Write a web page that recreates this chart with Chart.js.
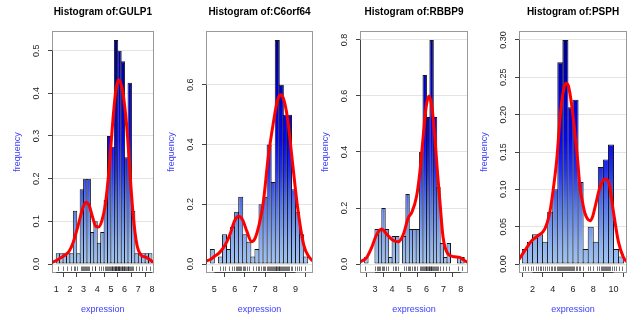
<!DOCTYPE html>
<html><head><meta charset="utf-8">
<script src="https://cdn.jsdelivr.net/npm/chart.js@4.4.1/dist/chart.umd.min.js"></script>
<style>
html,body{margin:0;padding:0;background:#fff;width:642px;height:320px;overflow:hidden;position:relative}
canvas{position:absolute;top:0}
</style></head><body>
<script>
// ---------- data ----------
const genes = ['GULP1', 'C6orf64', 'RBBP9', 'PSPH'];

// histogram bins (start of first bin, width) and bar heights (density)
const gulp1BinStart = 1.0, gulp1BinWidth = 0.25;
const gulp1Freq = [0.025,0.025,0.025,0.025,0.025,0.125,0.025,0.175,0.2,0.2,0.075,0.1,0.05,0.075,0.15,0.3,0.275,0.525,0.5,0.475,0.25,0.425,0.125,0.025,0.025,0.025,0.025,0.025];
const c6orf64BinStart = 4.8, c6orf64BinWidth = 0.2;
const c6orf64Freq = [0.05,0,0.025,0.1,0.05,0.125,0.175,0.225,0.1,0.075,0.025,0.05,0.2,0.225,0.4,0.275,0.75,0.6,0.5,0.5,0.25,0.175,0.1,0.025];
const rbbp9BinStart = 2.4, rbbp9BinWidth = 0.2;
const rbbp9Freq = [0.025,0,0,0.125,0.125,0.2,0.125,0.025,0.1,0.1,0,0.1,0.25,0.125,0.125,0.125,0.4,0.675,0.525,0.8,0.525,0.275,0.075,0.025,0.075,0,0,0.025,0.025];
const psphBinStart = 1.0, psphBinWidth = 0.5;
const psphFreq = [0.02,0.03,0.04,0.04,0.03,0.07,0.1,0.27,0.3,0.21,0.22,0.11,0.02,0.05,0.03,0.13,0.14,0.16,0.02,0.01];

// density curves [x, y]
const gulp1Density = [[0.69,0.004],[1.0,0.008],[1.3,0.014],[1.6,0.02],[1.94,0.03],[2.23,0.05],[2.58,0.088],[2.93,0.13],[3.17,0.145],[3.4,0.138],[3.64,0.112],[3.9,0.088],[4.1,0.087],[4.35,0.103],[4.58,0.138],[4.8,0.2],[4.97,0.265],[5.15,0.34],[5.35,0.405],[5.55,0.432],[5.75,0.42],[5.95,0.385],[6.2,0.305],[6.4,0.21],[6.63,0.113],[6.9,0.045],[7.2,0.021],[7.55,0.016],[7.85,0.01],[8.12,0.004]];
const c6orf64Density = [[4.59,0.01],[4.8,0.015],[5.03,0.027],[5.25,0.038],[5.45,0.055],[5.62,0.075],[5.8,0.105],[6.0,0.145],[6.2,0.16],[6.4,0.147],[6.6,0.11],[6.84,0.075],[7.0,0.085],[7.2,0.13],[7.4,0.2],[7.66,0.36],[7.9,0.47],[8.1,0.545],[8.25,0.567],[8.4,0.555],[8.6,0.49],[8.85,0.34],[9.1,0.19],[9.4,0.065],[9.65,0.025],[9.86,0.01]];
const rbbp9Density = [[2.13,0.008],[2.5,0.022],[2.8,0.058],[3.1,0.105],[3.39,0.125],[3.68,0.107],[4.05,0.085],[4.36,0.08],[4.65,0.105],[4.94,0.165],[5.15,0.185],[5.42,0.24],[5.62,0.33],[5.8,0.448],[5.98,0.56],[6.15,0.6],[6.32,0.56],[6.48,0.46],[6.65,0.32],[6.78,0.226],[6.97,0.095],[7.26,0.036],[7.65,0.026],[7.94,0.024],[8.23,0.012],[8.42,0.006]];
const psphDensity = [[0.67,0.006],[1.24,0.018],[1.9,0.031],[2.56,0.038],[3.22,0.047],[3.72,0.07],[4.05,0.1],[4.4,0.14],[4.75,0.2],[5.05,0.232],[5.3,0.242],[5.55,0.238],[5.85,0.215],[6.15,0.18],[6.45,0.14],[6.69,0.103],[6.95,0.082],[7.18,0.068],[7.45,0.06],[7.7,0.058],[7.95,0.064],[8.17,0.076],[8.67,0.103],[9.16,0.114],[9.56,0.108],[9.99,0.07],[10.48,0.03],[10.98,0.009],[11.33,0.003]];

// rug marks (observations)
const gulp1Rug = [1.15,1.5,1.8,2.05,2.3,2.38,2.55,2.8,2.9,2.97,3.05,3.12,3.2,3.27,3.35,3.42,3.6,3.8,3.87,4.1,4.3,4.4,4.55,4.62,4.7,4.8,4.86,4.93,5.0,5.05,5.1,5.15,5.2,5.27,5.3,5.35,5.4,5.45,5.5,5.55,5.58,5.62,5.68,5.72,5.78,5.82,5.88,5.93,5.98,6.03,6.1,6.15,6.22,6.28,6.33,6.38,6.45,6.55,6.62,6.8,7.05,7.3,7.6,7.85];
const c6orf64Rug = [4.87,5.3,5.45,5.55,5.7,5.85,5.95,6.05,6.12,6.18,6.22,6.28,6.33,6.4,6.45,6.52,6.6,6.72,6.9,7.05,7.15,7.22,7.3,7.38,7.45,7.52,7.6,7.65,7.7,7.75,7.8,7.85,7.9,7.95,8.0,8.03,8.06,8.1,8.13,8.17,8.2,8.25,8.3,8.35,8.4,8.45,8.5,8.55,8.6,8.65,8.7,8.78,8.85,8.95,9.05,9.15,9.25,9.45];
const rbbp9Rug = [2.4,3.02,3.1,3.18,3.25,3.32,3.4,3.48,3.55,3.65,3.75,4.08,4.15,4.25,4.32,4.7,4.82,4.9,4.97,5.05,5.15,5.25,5.35,5.45,5.6,5.68,5.75,5.8,5.85,5.9,5.95,6.0,6.04,6.08,6.12,6.16,6.2,6.24,6.28,6.32,6.36,6.42,6.48,6.55,6.62,6.7,6.8,6.95,7.15,7.3,7.85,8.05];
const psphRug = [1.1,1.3,1.6,1.9,2.1,2.3,2.5,2.7,2.85,3.0,3.2,3.4,3.6,3.8,3.95,4.1,4.25,4.4,4.5,4.6,4.7,4.8,4.9,5.0,5.1,5.2,5.3,5.4,5.5,5.6,5.7,5.8,5.9,6.0,6.1,6.25,6.4,6.55,6.7,7.0,7.5,7.7,7.95,8.4,8.6,8.8,8.9,9.0,9.1,9.2,9.3,9.4,9.5,9.6,9.7,9.85,10.0,10.2,10.5,10.8];

// axis ticks and labels
const gulp1XTicks = [1,2,3,4,5,6,7,8];
const gulp1YTicks = [0,0.1,0.2,0.3,0.4,0.5];
const gulp1YLabels = ['0.0','0.1','0.2','0.3','0.4','0.5'];
const c6orf64XTicks = [5,6,7,8,9];
const c6orf64YTicks = [0,0.2,0.4,0.6];
const c6orf64YLabels = ['0.0','0.2','0.4','0.6'];
const rbbp9XTicks = [3,4,5,6,7,8];
const rbbp9YTicks = [0,0.2,0.4,0.6,0.8];
const rbbp9YLabels = ['0.0','0.2','0.4','0.6','0.8'];
const psphXTicks = [2,4,6,8,10];
const psphYTicks = [0,0.05,0.1,0.15,0.2,0.25,0.3];
const psphYLabels = ['0.00','0.05','0.10','0.15','0.20','0.25','0.30'];

const xTitle = 'expression';
const yTitle = 'frequency';
const titlePrefix = 'Histogram of:';

// ---------- layout (plot box in page pixels) ----------
const panels = [
  {gene:genes[0], freq:gulp1Freq, binStart:gulp1BinStart, binWidth:gulp1BinWidth, density:gulp1Density, rug:gulp1Rug,
   xTicks:gulp1XTicks, yTicks:gulp1YTicks, yLabels:gulp1YLabels, xMin:0.69, xMax:8.12, yMin:-0.021, yMax:0.546, boxL:52, boxR:156},
  {gene:genes[1], freq:c6orf64Freq, binStart:c6orf64BinStart, binWidth:c6orf64BinWidth, density:c6orf64Density, rug:c6orf64Rug,
   xTicks:c6orf64XTicks, yTicks:c6orf64YTicks, yLabels:c6orf64YLabels, xMin:4.59, xMax:9.86, yMin:-0.03, yMax:0.78, boxL:206, boxR:313},
  {gene:genes[2], freq:rbbp9Freq, binStart:rbbp9BinStart, binWidth:rbbp9BinWidth, density:rbbp9Density, rug:rbbp9Rug,
   xTicks:rbbp9XTicks, yTicks:rbbp9YTicks, yLabels:rbbp9YLabels, xMin:2.13, xMax:8.42, yMin:-0.032, yMax:0.832, boxL:360, boxR:468},
  {gene:genes[3], freq:psphFreq, binStart:psphBinStart, binWidth:psphBinWidth, density:psphDensity, rug:psphRug,
   xTicks:psphXTicks, yTicks:psphYTicks, yLabels:psphYLabels, xMin:0.67, xMax:11.33, yMin:-0.012, yMax:0.312, boxL:519, boxR:627}
];

const FONT = '"Liberation Sans", Arial, Helvetica, sans-serif';
Chart.defaults.font.family = FONT;
const LEFT_EXTRA = 45, Y_AXIS_W = 40, RIGHT_PAD = 6;
const LABEL_BLUE = '#3c3cff';

function makeGradient(chart) {
  const {ctx, chartArea} = chart;
  const g = ctx.createLinearGradient(0, chartArea.bottom, 0, chartArea.top);
  g.addColorStop(0.0, '#abcdf5');
  g.addColorStop(0.12, '#8cb0ee');
  g.addColorStop(0.28, '#5577e6');
  g.addColorStop(0.42, '#2433ea');
  g.addColorStop(0.55, '#0606ee');
  g.addColorStop(0.75, '#0000c4');
  g.addColorStop(1.0, '#00007a');
  return g;
}

panels.forEach((p, idx) => {
  const boxW = p.boxR - p.boxL;
  const cw = boxW + LEFT_EXTRA + RIGHT_PAD;
  const canvas = document.createElement('canvas');
  canvas.width = cw; canvas.height = 320;
  canvas.style.left = (p.boxL - LEFT_EXTRA) + 'px';
  canvas.style.width = cw + 'px'; canvas.style.height = '320px';
  document.body.appendChild(canvas);

  const binPx = p.binWidth * boxW / (p.xMax - p.xMin);
  const bars = p.freq.map((v, i) => ({x: p.binStart + (i + 0.5) * p.binWidth, y: v}));
  const dens = p.density.map(d => ({x: d[0], y: d[1]}));

  const decor = {
    id: 'decor' + idx,
    afterDatasetsDraw(chart) {
      const c = chart.ctx, a = chart.chartArea, xs = chart.scales.x;
      c.save();
      c.strokeStyle = 'rgba(0,0,0,0.55)';
      c.lineWidth = 1;
      c.beginPath();
      p.rug.forEach(v => {
        const px = Math.round(xs.getPixelForValue(v)) + 0.5;
        c.moveTo(px, a.bottom - 2);
        c.lineTo(px, a.bottom - 6.5);
      });
      c.stroke();
      c.restore();
    },
    afterDraw(chart) {
      const c = chart.ctx, a = chart.chartArea, xs = chart.scales.x, ys = chart.scales.y;
      c.save();
      // plot box
      c.strokeStyle = '#9a9a9a';
      c.lineWidth = 1;
      c.strokeRect(Math.round(a.left) + 0.5, Math.round(a.top) + 0.5,
                   Math.round(a.right) - Math.round(a.left) - 1, Math.round(a.bottom) - Math.round(a.top) - 1);
      // axis lines between first and last tick
      c.strokeStyle = '#444';
      c.beginPath();
      const bx = Math.round(a.bottom) - 0.5;
      c.moveTo(xs.getPixelForValue(p.xTicks[0]), bx);
      c.lineTo(xs.getPixelForValue(p.xTicks[p.xTicks.length - 1]), bx);
      const lx = Math.round(a.left) + 0.5;
      c.moveTo(lx, ys.getPixelForValue(p.yTicks[0]));
      c.lineTo(lx, ys.getPixelForValue(p.yTicks[p.yTicks.length - 1]));
      c.stroke();
      // rotated y tick labels
      c.fillStyle = '#222';
      c.font = '9px ' + FONT;
      c.textAlign = 'center';
      c.textBaseline = 'middle';
      p.yTicks.forEach((v, i) => {
        c.save();
        c.translate(a.left - 15, ys.getPixelForValue(v));
        c.rotate(-Math.PI / 2);
        c.fillText(p.yLabels[i], 0, 0);
        c.restore();
      });
      c.restore();
    }
  };

  new Chart(canvas, {
    data: {
      datasets: [
        {
          type: 'bar', data: bars,
          backgroundColor: (ctx) => {
            const ch = ctx.chart;
            if (!ch.chartArea) return '#5577e6';
            return ch.$grad || (ch.$grad = makeGradient(ch));
          },
          borderColor: '#161616', borderWidth: 1, borderSkipped: false,
          barPercentage: 1 + 1 / binPx, categoryPercentage: 1, order: 2
        },
        {
          type: 'line', data: dens,
          borderColor: '#ff0000', borderWidth: 3, pointRadius: 0,
          cubicInterpolationMode: 'monotone', fill: false, order: 1
        }
      ]
    },
    options: {
      responsive: false, animation: false, devicePixelRatio: 1, events: [],
      layout: {padding: {left: LEFT_EXTRA - Y_AXIS_W, right: RIGHT_PAD, top: 0, bottom: 0}},
      plugins: {
        legend: {display: false}, tooltip: {enabled: false},
        title: {display: true, text: titlePrefix + p.gene, color: '#000', fullSize: false,
                font: {size: 10, weight: 'bold'}, padding: {top: 6, bottom: 13}}
      },
      scales: {
        x: {
          type: 'linear', min: p.xMin, max: p.xMax, offset: false,
          afterBuildTicks: s => { s.ticks = p.xTicks.map(v => ({value: v})); },
          ticks: {autoSkip: false, maxRotation: 0, padding: 7.4, color: '#222', font: {size: 9},
                  callback: v => String(v)},
          grid: {drawOnChartArea: false, drawTicks: true, tickLength: 4, tickColor: '#444'},
          border: {display: false},
          title: {display: true, text: xTitle, color: LABEL_BLUE, font: {size: 9}, padding: {top: 2, bottom: 4.6}}
        },
        y: {
          type: 'linear', min: p.yMin, max: p.yMax,
          afterBuildTicks: s => { s.ticks = p.yTicks.map(v => ({value: v})); },
          afterFit: s => { s.width = Y_AXIS_W; },
          ticks: {display: false},
          grid: {color: '#e4e4e4', drawTicks: true, tickLength: 4, tickColor: '#444'},
          border: {display: false},
          title: {display: true, text: yTitle, color: LABEL_BLUE, font: {size: 9}, padding: {top: 0, bottom: 0}}
        }
      }
    },
    plugins: [decor]
  });
});
</script>
</body></html>
